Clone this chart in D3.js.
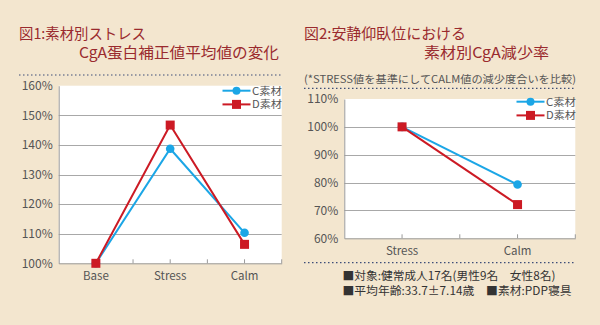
<!DOCTYPE html>
<html><head><meta charset="utf-8">
<script src="https://cdn.jsdelivr.net/npm/d3@7"></script>
<style>
html,body{margin:0;padding:0;background:#f3e6cf;}
svg{display:block;}
text{font-family:"Noto Sans CJK JP","Noto Sans",sans-serif;}
</style></head>
<body>
<svg id="c" width="600" height="325"></svg>
<script>
// Chart 1 data
const cats1 = ["Base", "Stress", "Calm"];
const c1 = [100, 138.7, 110.3];
const d1 = [100, 146.7, 106.4];
const yTicks1 = [100, 110, 120, 130, 140, 150, 160];
// Chart 2 data
const cats2 = ["Stress", "Calm"];
const c2 = [100, 79.3];
const d2 = [100, 72.1];
const yTicks2 = [60, 70, 80, 90, 100, 110];
const seriesNames = ["C素材", "D素材"];

const blue = "#1ba6e6", red = "#cc1a24", titleCol = "#9a2a2e", axisCol = "#9a9a9a", txtCol = "#555";
const svg = d3.select("#c");
svg.append("rect").attr("width",600).attr("height",325).attr("fill","#f3e6cf");

function title(lines){
  lines.forEach(l=>{
    svg.append("text").attr("x",l.x).attr("y",l.y).attr("fill",titleCol)
      .attr("font-size",l.fs||15).attr("textLength",l.w).attr("lengthAdjust","spacingAndGlyphs").text(l.t);
  });
}
function dotted(x1,x2,y){
  svg.append("line").attr("x1",x1).attr("x2",x2).attr("y1",y).attr("y2",y)
    .attr("stroke","#3d4d78").attr("stroke-width",1.2).attr("stroke-dasharray","1.5,2.5");
}

function chart(o){
  const x = d3.scaleBand().domain(o.cats).range([o.x0,o.x1]);
  const y = d3.scaleLinear().domain(o.dom).range([o.y1,o.y0]);
  const g = svg.append("g");
  g.append("rect").attr("x",o.x0).attr("y",o.y0).attr("width",o.x1-o.x0).attr("height",o.y1-o.y0).attr("fill","#fff");
  // gridlines
  g.selectAll(".gl").data(o.ticks.filter(t=>t>o.dom[0]&&t<o.dom[1])).enter().append("line")
    .attr("x1",o.x0).attr("x2",o.x1).attr("y1",d=>Math.round(y(d))+0.5).attr("y2",d=>Math.round(y(d))+0.5)
    .attr("stroke","#a8a8a8").attr("stroke-width",1);
  // y axis
  const ya = d3.axisLeft(y).tickValues(o.ticks).tickSize(0).tickPadding(6).tickFormat(d=>d+"%");
  const yg = g.append("g").attr("transform",`translate(${o.x0},0)`).call(ya);
  yg.select(".domain").attr("stroke",axisCol);
  yg.selectAll("text").attr("font-size",12).attr("fill",txtCol).attr("font-family","Liberation Sans, Arial, sans-serif");
  // x axis
  const xa = d3.axisBottom(x).tickSize(0).tickPadding(9);
  const xg = g.append("g").attr("transform",`translate(0,${o.y1})`).call(xa);
  xg.select(".domain").attr("stroke",axisCol);
  xg.selectAll("text").attr("font-size",11.5).attr("fill",txtCol).attr("font-family","Liberation Sans, Arial, sans-serif");
  // small inner ticks at half-band steps
  const n = o.cats.length*2;
  const tk = d3.range(1,n+1).map(i=>o.x0+(o.x1-o.x0)*i/n);
  g.selectAll(".tk").data(tk).enter().append("line")
    .attr("x1",d=>d).attr("x2",d=>d).attr("y1",o.y1).attr("y2",o.y1-4).attr("stroke",axisCol);
  const cx = c=>x(c)+x.bandwidth()/2;
  const line = d3.line().x((d,i)=>cx(o.cats[i])).y(d=>y(d));
  // series
  [[o.c,blue,"c"],[o.d,red,"s"]].forEach(([vals,col,shape])=>{
    g.append("path").attr("d",line(vals)).attr("fill","none").attr("stroke",col).attr("stroke-width",2);
  });
  [[o.c,blue,"c"],[o.d,red,"s"]].forEach(([vals,col,shape])=>{
    vals.forEach((v,i)=>{
      if(shape==="c") g.append("circle").attr("cx",cx(o.cats[i])).attr("cy",y(v)).attr("r",4.3).attr("fill",col);
      else g.append("rect").attr("x",cx(o.cats[i])-4.5).attr("y",y(v)-4.5).attr("width",9).attr("height",9).attr("fill",col);
    });
  });
  // legend
  [[blue,"c"],[red,"s"]].forEach(([col,shape],i)=>{
    const ly = o.ly + i*13.7;
    g.append("line").attr("x1",o.lx).attr("x2",o.lx+28).attr("y1",ly).attr("y2",ly).attr("stroke",col).attr("stroke-width",2);
    if(shape==="c") g.append("circle").attr("cx",o.lx+14).attr("cy",ly).attr("r",4).attr("fill",col);
    else g.append("rect").attr("x",o.lx+9.5).attr("y",ly-4.5).attr("width",9).attr("height",9).attr("fill",col);
    g.append("text").attr("x",o.lx+29.5).attr("y",ly+4).attr("font-size",10.5).attr("fill",txtCol)
      .attr("textLength",30).attr("lengthAdjust","spacingAndGlyphs").text(seriesNames[i]);
  });
}

// Left
title([{x:19,y:38.5,t:"図1:素材別ストレス",w:127},{x:79,y:58,t:"CgA蛋白補正値平均値の変化",w:200}]);
dotted(19,281,75);
chart({cats:cats1,c:c1,d:d1,dom:[100,160],ticks:yTicks1,x0:58.7,x1:281.7,y0:85.7,y1:263.3,lx:222.5,ly:90.7});

// Right
title([{x:304,y:38.5,t:"図2:安静仰臥位における",w:162},{x:424,y:58,t:"素材別CgA減少率",w:125}]);
svg.append("text").attr("x",304).attr("y",83).attr("font-size",10.5).attr("fill",txtCol)
  .attr("textLength",272).attr("lengthAdjust","spacingAndGlyphs").text("(*STRESS値を基準にしてCALM値の減少度合いを比較)");
dotted(304,576,88.3);
chart({cats:cats2,c:c2,d:d2,dom:[60,110],ticks:yTicks2,x0:344.3,x1:575.3,y0:99,y1:238.3,lx:516.5,ly:101.7});
dotted(304,576,262.7);
svg.append("text").attr("x",342.5).attr("y",279.5).attr("font-size",11.5).attr("fill","#333")
  .attr("textLength",213).attr("lengthAdjust","spacingAndGlyphs").text("■対象:健常成人17名(男性9名　女性8名)");
svg.append("text").attr("x",342.5).attr("y",295).attr("font-size",11.5).attr("fill","#333")
  .attr("textLength",229).attr("lengthAdjust","spacingAndGlyphs").text("■平均年齢:33.7±7.14歳　■素材:PDP寝具");
</script>
</body></html>
